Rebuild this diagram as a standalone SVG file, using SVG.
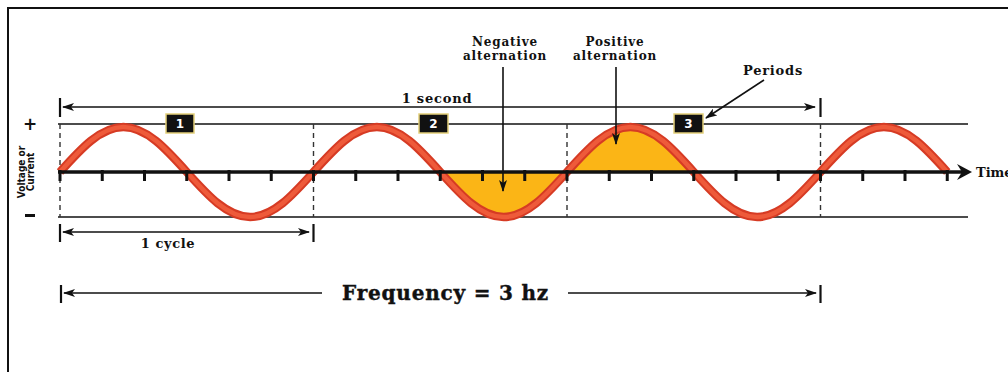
<svg xmlns="http://www.w3.org/2000/svg" width="1008" height="372" viewBox="0 0 1008 372">
<style>
.lbl{font-family:"DejaVu Serif","Liberation Serif",serif;font-weight:bold;fill:#111;text-anchor:middle}
.thin{stroke:#111;stroke-width:1.6;fill:none}
.dash{stroke:#333;stroke-width:1.4;stroke-dasharray:5 4;fill:none}
.bar{stroke:#111;stroke-width:2.2}
.tick{stroke:#111;stroke-width:3}
.box{fill:#111;stroke:#e3cf7a;stroke-width:1.5}
.num{font-family:"DejaVu Sans","Liberation Sans",sans-serif;font-weight:bold;font-size:12px;fill:#fff;text-anchor:middle}
.fill{fill:#fbb516}
</style>
<defs>
<marker id="ah" viewBox="0 0 12 8" refX="11" refY="4" markerWidth="12" markerHeight="8" markerUnits="userSpaceOnUse" orient="auto-start-reverse">
<path d="M0,0 L12,4 L0,8 L3,4 z" fill="#111"/>
</marker>
</defs>
<rect x="8" y="8" width="1010" height="380" fill="#fff" stroke="#111" stroke-width="2"/>

<g id="fills">
<path class="fill" d="M440.25,172 c20.67,23.05 40.44,45 63.375,45 c22.94,0 42.71,-21.95 63.375,-45 Z"/>
<path class="fill" d="M567,172 c20.67,-23.05 40.44,-45 63.375,-45 c22.94,0 42.71,21.95 63.375,45 Z"/>
</g>

<g id="guides">
<line class="thin" x1="58" y1="124" x2="968" y2="124"/>
<line class="thin" x1="58" y1="217" x2="968" y2="217"/>
<line class="dash" x1="60" y1="124" x2="60" y2="217" stroke="#888"/>
<line class="dash" x1="313.5" y1="124" x2="313.5" y2="217"/>
<line class="dash" x1="567" y1="124" x2="567" y2="217"/>
<line class="dash" x1="820.5" y1="124" x2="820.5" y2="217"/>
</g>

<g id="wave">
<path d="M60,172 c20.67,-23.05 40.44,-45 63.375,-45 c22.94,0 42.71,21.95 63.375,45 c20.67,23.05 40.44,45 63.375,45 c22.94,0 42.71,-21.95 63.375,-45 c20.67,-23.05 40.44,-45 63.375,-45 c22.94,0 42.71,21.95 63.375,45 c20.67,23.05 40.44,45 63.375,45 c22.94,0 42.71,-21.95 63.375,-45 c20.67,-23.05 40.44,-45 63.375,-45 c22.94,0 42.71,21.95 63.375,45 c20.67,23.05 40.44,45 63.375,45 c22.94,0 42.71,-21.95 63.375,-45 c20.67,-23.05 40.44,-45 63.375,-45 c22.94,0 42.71,21.95 63.375,45" fill="none" stroke="#d63b24" stroke-width="8.5"/>
<path d="M60,172 c20.67,-23.05 40.44,-45 63.375,-45 c22.94,0 42.71,21.95 63.375,45 c20.67,23.05 40.44,45 63.375,45 c22.94,0 42.71,-21.95 63.375,-45 c20.67,-23.05 40.44,-45 63.375,-45 c22.94,0 42.71,21.95 63.375,45 c20.67,23.05 40.44,45 63.375,45 c22.94,0 42.71,-21.95 63.375,-45 c20.67,-23.05 40.44,-45 63.375,-45 c22.94,0 42.71,21.95 63.375,45 c20.67,23.05 40.44,45 63.375,45 c22.94,0 42.71,-21.95 63.375,-45 c20.67,-23.05 40.44,-45 63.375,-45 c22.94,0 42.71,21.95 63.375,45" fill="none" stroke="#ee5a3a" stroke-width="4.5"/>
</g>

<g id="axis">
<line x1="58" y1="172" x2="962" y2="172" stroke="#111" stroke-width="3.5"/>
<polygon points="957,164 972,172 957,180 962,172" fill="#111"/>
<g class="tick">
<line x1="60" y1="170" x2="60" y2="181"/>
<line x1="102.25" y1="170" x2="102.25" y2="181"/>
<line x1="144.5" y1="170" x2="144.5" y2="181"/>
<line x1="186.75" y1="170" x2="186.75" y2="181"/>
<line x1="229" y1="170" x2="229" y2="181"/>
<line x1="271.25" y1="170" x2="271.25" y2="181"/>
<line x1="313.5" y1="170" x2="313.5" y2="181"/>
<line x1="355.75" y1="170" x2="355.75" y2="181"/>
<line x1="398" y1="170" x2="398" y2="181"/>
<line x1="440.25" y1="170" x2="440.25" y2="181"/>
<line x1="482.5" y1="170" x2="482.5" y2="181"/>
<line x1="524.75" y1="170" x2="524.75" y2="181"/>
<line x1="567" y1="170" x2="567" y2="181"/>
<line x1="609.25" y1="170" x2="609.25" y2="181"/>
<line x1="651.5" y1="170" x2="651.5" y2="181"/>
<line x1="693.75" y1="170" x2="693.75" y2="181"/>
<line x1="736" y1="170" x2="736" y2="181"/>
<line x1="778.25" y1="170" x2="778.25" y2="181"/>
<line x1="820.5" y1="170" x2="820.5" y2="181"/>
<line x1="862.75" y1="170" x2="862.75" y2="181"/>
<line x1="905" y1="170" x2="905" y2="181"/>
<line x1="947.25" y1="170" x2="947.25" y2="181"/>
</g>
<text class="lbl" x="976" y="177" font-size="13" style="text-anchor:start">Time</text>
</g>

<g id="ylabel">
<text x="30" y="130" font-family="DejaVu Sans,sans-serif" font-weight="bold" font-size="17" text-anchor="middle" fill="#111">+</text>
<rect x="25" y="214" width="10" height="3" fill="#111"/>
<text transform="translate(26,172) rotate(-90)" font-family="DejaVu Sans Condensed,DejaVu Sans,sans-serif" font-weight="bold" font-size="10" text-anchor="middle" fill="#111"><tspan x="0" y="-1.5">Voltage or</tspan><tspan x="0" y="8">Current</tspan></text>
</g>

<g id="boxes">
<rect class="box" x="166" y="114" width="28" height="19"/>
<text class="num" x="180" y="128">1</text>
<rect class="box" x="419" y="114" width="29" height="19"/>
<text class="num" x="433.5" y="128">2</text>
<rect class="box" x="674" y="114" width="29" height="19"/>
<text class="num" x="688.5" y="128">3</text>
</g>

<g id="connectors">
<line class="bar" x1="60" y1="98" x2="60" y2="117"/>
<line class="bar" x1="820.5" y1="98" x2="820.5" y2="117"/>
<line class="thin" x1="63" y1="107" x2="815" y2="107" marker-start="url(#ah)" marker-end="url(#ah)"/>
<line class="bar" x1="60" y1="224" x2="60" y2="242"/>
<line class="bar" x1="313.5" y1="224" x2="313.5" y2="242"/>
<line class="thin" x1="63" y1="232" x2="309" y2="232" marker-start="url(#ah)" marker-end="url(#ah)"/>
<line class="bar" x1="61" y1="285" x2="61" y2="303"/>
<line class="bar" x1="820.5" y1="285" x2="820.5" y2="303"/>
<line class="thin" x1="64" y1="293" x2="322" y2="293" marker-start="url(#ah)"/>
<line class="thin" x1="568" y1="293" x2="816" y2="293" marker-end="url(#ah)"/>
<line class="thin" x1="503" y1="67" x2="503" y2="191" marker-end="url(#ah)"/>
<line class="thin" x1="616" y1="67" x2="616" y2="144" marker-end="url(#ah)"/>
<line class="thin" x1="764" y1="80" x2="706" y2="118" marker-end="url(#ah)"/>
</g>

<g id="labels">
<text class="lbl" x="437" y="103" font-size="13" letter-spacing="0.8">1 second</text>
<text class="lbl" x="168" y="248" font-size="13" letter-spacing="0.6">1 cycle</text>
<text class="lbl" x="445.5" y="300" font-size="20" letter-spacing="0.8" stroke="#111" stroke-width="0.4">Frequency = 3 hz</text>
<text class="lbl" x="505" y="45.5" font-size="12" letter-spacing="0.8">Negative</text>
<text class="lbl" x="505" y="59.5" font-size="12" letter-spacing="0.8">alternation</text>
<text class="lbl" x="615" y="45.5" font-size="12" letter-spacing="0.8">Positive</text>
<text class="lbl" x="615" y="59.5" font-size="12" letter-spacing="0.8">alternation</text>
<text class="lbl" x="773" y="75" font-size="13" letter-spacing="0.8">Periods</text>
</g>
</svg>
